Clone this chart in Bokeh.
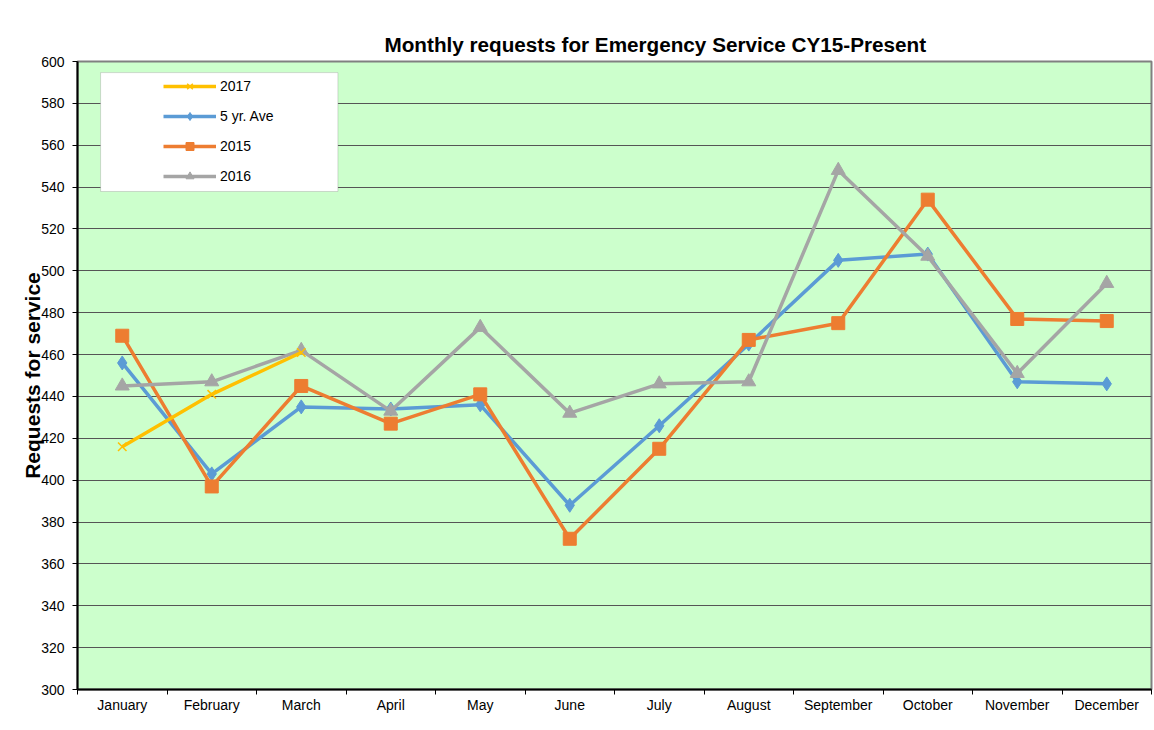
from bokeh.plotting import figure
from bokeh.models import FixedTicker, Range1d, Legend, LegendItem, BoxAnnotation
from bokeh.embed import file_html
from bokeh.resources import INLINE

months = ["January", "February", "March", "April", "May", "June", "July",
          "August", "September", "October", "November", "December"]
s2017 = [416, 441, 461]
ave5 = [456, 403, 435, 434, 436, 388, 426, 465, 505, 508, 447, 446]
s2015 = [469, 397, 445, 427, 441, 372, 415, 467, 475, 534, 477, 476]
s2016 = [445, 447, 462, 433, 473, 432, 446, 447, 548, 507, 451, 494]
y_ticks = list(range(300, 601, 20))

FONT = "Liberation Sans"
xc = [i + 0.5 for i in range(len(months))]
bounds = list(range(len(months) + 1))

p = figure(width=1154, height=730, output_backend="svg", toolbar_location=None,
           x_range=Range1d(0, len(months)), y_range=Range1d(300, 600),
           min_border_left=77, min_border_right=3, min_border_top=61, min_border_bottom=41,
           background_fill_color="#CCFFCC", border_fill_color="white",
           title="Monthly requests for Emergency Service CY15-Present")

p.title.text_font = FONT
p.title.text_font_size = "20.7px"
p.title.text_font_style = "bold"
p.title.align = "left"
p.title.offset = 307
p.title.standoff = 11
p.title.text_color = "black"

p.outline_line_color = "#808080"
p.outline_line_width = 2

# grid
p.xgrid.grid_line_color = None
p.ygrid.ticker = FixedTicker(ticks=y_ticks)
p.ygrid.grid_line_color = "#555555"
p.ygrid.grid_line_width = 1

# axes
xa = p.xaxis[0]
xa.ticker = FixedTicker(ticks=xc, minor_ticks=bounds)
xa.major_label_overrides = {c: m for c, m in zip(xc, months)}
xa.major_tick_line_color = None
xa.major_tick_out = 0
xa.major_tick_in = 0
xa.minor_tick_in = 0
xa.minor_tick_out = 5
xa.minor_tick_line_color = "black"
xa.axis_line_color = "black"
xa.axis_line_width = 2
xa.major_label_text_font = FONT
xa.major_label_text_font_size = "14px"
xa.major_label_text_color = "black"
xa.major_label_standoff = 2

ya = p.yaxis[0]
ya.ticker = FixedTicker(ticks=y_ticks)
ya.major_tick_in = 0
ya.major_tick_out = 5
ya.major_tick_line_color = "black"
ya.minor_tick_line_color = None
ya.axis_line_color = "black"
ya.axis_line_width = 2
ya.major_label_text_font = FONT
ya.major_label_text_font_size = "14px"
ya.major_label_text_color = "black"
ya.major_label_standoff = 8
ya.axis_label = "Requests for service"
ya.axis_label_text_font = FONT
ya.axis_label_text_font_size = "21px"
ya.axis_label_text_font_style = "bold"
ya.axis_label_text_color = "black"
ya.axis_label_standoff = -6

# series (bottom to top)
C_AVE, C_15, C_16, C_17 = "#5B9BD5", "#ED7D31", "#A5A5A5", "#FFC000"
LW = 3.5

l_ave = p.line(xc, ave5, line_color=C_AVE, line_width=LW)
m_ave = p.scatter(xc, ave5, marker="diamond", size=14, fill_color=C_AVE, line_color=C_AVE)

l_15 = p.line(xc, s2015, line_color=C_15, line_width=LW)
m_15 = p.scatter(xc, s2015, marker="square", size=13, fill_color=C_15, line_color=C_15)

l_16 = p.line(xc, s2016, line_color=C_16, line_width=LW)
m_16 = p.scatter(xc, s2016, marker="triangle", size=14, fill_color=C_16, line_color=C_16)

x17 = xc[:len(s2017)]
l_17 = p.line(x17, s2017, line_color=C_17, line_width=LW)
m_17 = p.scatter(x17, s2017, marker="x", size=12, line_color=C_17, line_width=1.5)

# legend box
box = BoxAnnotation(left=0.258, right=2.91, top=594.7, bottom=537.9,
                    fill_color="white", fill_alpha=1.0,
                    line_color="#808080", line_width=1)
p.add_layout(box)

legend = Legend(items=[
    LegendItem(label="2017", renderers=[l_17, m_17]),
    LegendItem(label="5 yr. Ave", renderers=[l_ave, m_ave]),
    LegendItem(label="2015", renderers=[l_15, m_15]),
    LegendItem(label="2016", renderers=[l_16, m_16]),
], location=(86, 503))
legend.padding = 0
legend.margin = 0
legend.spacing = 10
legend.glyph_width = 53
legend.glyph_height = 20
legend.label_standoff = 4
legend.label_text_font = FONT
legend.label_text_font_size = "14px"
legend.label_text_color = "black"
legend.background_fill_alpha = 0
legend.border_line_color = None
p.add_layout(legend)

open("out.html", "w").write(file_html(p, INLINE))
